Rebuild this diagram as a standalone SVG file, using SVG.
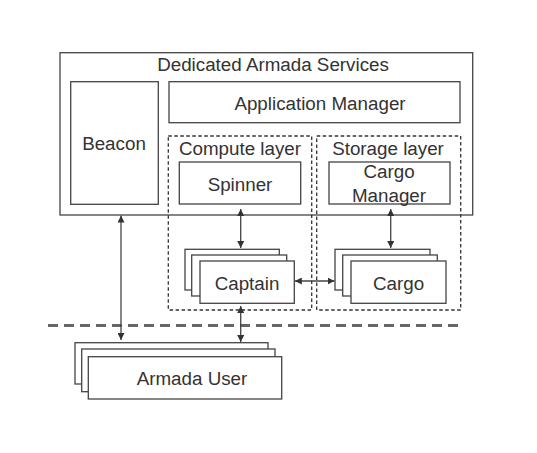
<svg xmlns="http://www.w3.org/2000/svg" width="537" height="453" viewBox="0 0 537 453">
<style>
.box{fill:#fff;stroke:#444;stroke-width:1.3}
.layer{fill:none;stroke:#333;stroke-width:1.3;stroke-dasharray:3.5 2.5}
.t{font-family:"Liberation Sans",Arial,sans-serif;font-size:18.8px;fill:#333;text-anchor:middle}
.c{stroke:#444;stroke-width:1.3;fill:none;marker-start:url(#ah);marker-end:url(#ah)}
</style>
<defs>
<marker id="ah" viewBox="0 0 10 10" refX="10" refY="5" markerWidth="7" markerHeight="7" markerUnits="userSpaceOnUse" orient="auto-start-reverse">
<path d="M0,0 L10,5 L0,10 z" fill="#333"/>
</marker>
</defs>
<rect width="537" height="453" fill="#fff"/>
<g id="dedicated-armada-services">
<rect class="box" x="60" y="52.7" width="412.7" height="162.3"/>
<text class="t" x="273" y="71">Dedicated Armada Services</text>
</g>
<g id="beacon">
<rect class="box" x="70.7" y="81.7" width="87.6" height="122.6"/>
<text class="t" x="114" y="150">Beacon</text>
</g>
<g id="application-manager">
<rect class="box" x="169" y="81.7" width="291" height="41"/>
<text class="t" x="320" y="110">Application Manager</text>
</g>
<g id="compute-layer">
<rect class="layer" x="168.3" y="136" width="143.4" height="174"/>
<text class="t" x="240" y="155">Compute layer</text>
</g>
<g id="storage-layer">
<rect class="layer" x="316.7" y="136" width="144" height="174"/>
<text class="t" x="388" y="155">Storage layer</text>
</g>
<g id="spinner">
<rect class="box" x="179.3" y="162" width="121.4" height="42"/>
<text class="t" x="240" y="191">Spinner</text>
</g>
<g id="cargo-manager">
<rect class="box" x="329" y="162" width="121" height="42"/>
<text class="t" x="389" y="178">Cargo</text>
<text class="t" x="389" y="202">Manager</text>
</g>
<g id="captain">
<rect class="box" x="185" y="249.3" width="94.3" height="40.7"/>
<rect class="box" x="191.7" y="255" width="95" height="41"/>
<rect class="box" x="200" y="261" width="94.3" height="42.3"/>
<text class="t" x="247" y="290">Captain</text>
</g>
<g id="cargo">
<rect class="box" x="335" y="249.3" width="95" height="40.7"/>
<rect class="box" x="342.7" y="255" width="94.6" height="41"/>
<rect class="box" x="351" y="261" width="95" height="42.3"/>
<text class="t" x="398.5" y="290">Cargo</text>
</g>
<g id="armada-user">
<rect class="box" x="75" y="342.7" width="193" height="41.3"/>
<rect class="box" x="81.7" y="349" width="193.3" height="42.7"/>
<rect class="box" x="88.3" y="356.7" width="193.4" height="42.3"/>
<text class="t" x="192" y="385">Armada User</text>
</g>
<g id="connectors">
<line x1="48" y1="325.5" x2="460" y2="325.5" stroke="#666" stroke-width="3" stroke-dasharray="10 6"/>
<line class="c" x1="121" y1="215.5" x2="121" y2="340"/>
<line class="c" x1="240.7" y1="209" x2="240.7" y2="248"/>
<line class="c" x1="390.7" y1="209" x2="390.7" y2="248"/>
<line class="c" x1="294.8" y1="281" x2="334.5" y2="281"/>
<line class="c" x1="240.7" y1="306" x2="240.7" y2="342"/>
</g>
</svg>
